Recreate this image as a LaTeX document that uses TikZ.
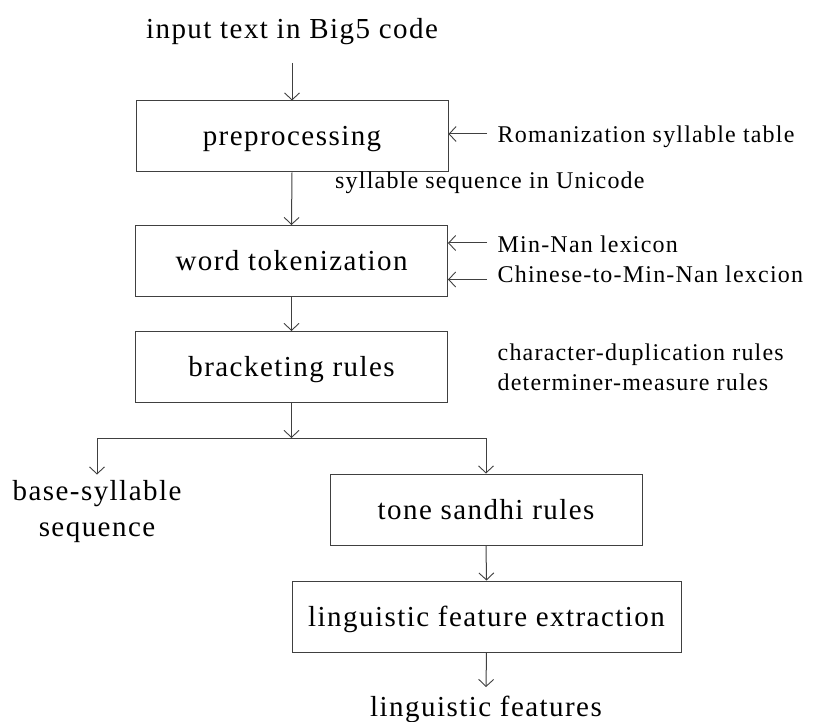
\documentclass[tikz,border=0pt]{standalone}
\usepackage{fontspec}
\setmainfont{Liberation Serif}[LetterSpace=5]
\usetikzlibrary{arrows.meta}
\begin{document}
\begin{tikzpicture}[x=1pt,y=-1pt,
  line/.style={line width=1pt,draw=black!75},
  arr/.style={line, -{Straight Barb[length=7pt,width=15pt,line width=0.9pt]}},
  box/.style={line, rectangle, inner sep=0pt, minimum width=312pt, minimum height=71pt,
    font=\fontsize{29}{34}\selectfont, text height=24.6pt, text depth=5.6pt},
  big/.style={inner sep=0pt, font=\fontsize{29}{34}\selectfont},
  small/.style={inner sep=0pt, font=\fontsize{24}{28}\selectfont}]
\useasboundingbox (0,0) rectangle (814,722);

% main boxes
\node[box] (pre) at (292,136.5) {preprocessing};
\node[box] (tok) at (291.5,261) {word tokenization};
\node[box] (brk) at (291.5,367) {bracketing rules};
\node[box] (tone) at (486,509.5) {tone sandhi rules};
\node[box, minimum width=389pt] (ling) at (486.5,616.5) {linguistic feature extraction};

% texts
\node[big, anchor=base] (input) at (292,39) {input text in Big5 code};
\node[big, anchor=base] (bs1) at (97,500) {base-syllable};
\node[big, anchor=base] (bs2) at (97,536.5) {sequence};
\node[big, anchor=base] (feat) at (486,716.5) {linguistic features};

\node[small, anchor=base west] (rom) at (497.5,142.7) {Romanization syllable table};
\node[small, anchor=base west] (uni) at (335,189) {syllable sequence in Unicode};
\node[small, anchor=base west] (mnl) at (497.5,252.7) {Min-Nan lexicon};
\node[small, anchor=base west] (cml) at (497.5,282.7) {Chinese-to-Min-Nan lexcion};
\node[small, anchor=base west] (cdr) at (497.5,360) {character-duplication rules};
\node[small, anchor=base west] (dmr) at (497.5,390) {determiner-measure rules};

% coordinates
\coordinate (a0) at (292,63);
\coordinate (r1) at (487,134);
\coordinate (r2) at (487,243);
\coordinate (r3) at (487,279.5);
\coordinate (split) at (291.5,438);
\coordinate (jl) at (97,438);
\coordinate (jr) at (486,438);
\coordinate (bsend) at (97,474.5);
\coordinate (fend) at (486,687);

% connectors
\draw[arr] (a0) -- (pre.north);
\draw[arr] (pre.south) -- (tok.north);
\draw[arr] (tok.south) -- (brk.north);
\draw[arr] (brk.south) -- (split);
\draw[line] (jl) -- (jr);
\draw[arr] (jl) -- (bsend);
\draw[arr] (jr) -- (tone.north);
\draw[arr] (tone.south) -- (ling.north);
\draw[arr] (ling.south) -- (fend);

\draw[arr] (r1) -- (r1 -| pre.east);
\draw[arr] (r2) -- (r2 -| tok.east);
\draw[arr] (r3) -- (r3 -| tok.east);
\end{tikzpicture}
\end{document}
